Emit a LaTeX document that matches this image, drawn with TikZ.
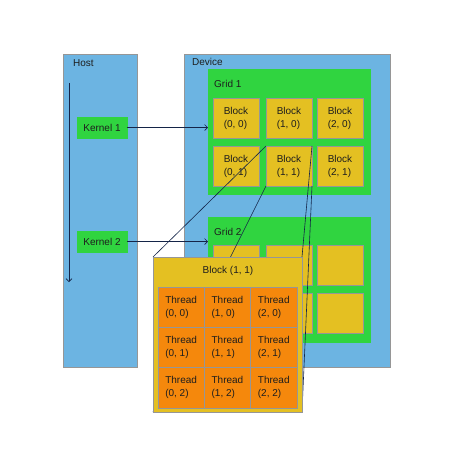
\documentclass[tikz,border=0pt]{standalone}
\usepackage{fontspec}
\setmainfont{Liberation Sans}
\usetikzlibrary{arrows.meta}
\definecolor{hostblue}{RGB}{108,180,226}
\definecolor{gridgreen}{RGB}{48,212,64}
\definecolor{blockyellow}{RGB}{228,192,34}
\definecolor{threadorange}{RGB}{245,136,12}
\definecolor{edgegray}{RGB}{150,150,150}
\definecolor{linenavy}{RGB}{20,36,72}
\definecolor{textdark}{RGB}{30,30,30}
\begin{document}
\begin{tikzpicture}[
	x=1pt, y=-1pt,
	font=\fontsize{10}{13}\selectfont,
	box/.style={draw=edgegray, line width=0.6pt, anchor=north west, inner sep=0pt, outer sep=0pt, text=textdark},
	hostbox/.style={box, fill=hostblue, minimum width=74pt, minimum height=313pt},
	gridbox/.style={box, draw=gridgreen, fill=gridgreen, minimum width=162pt, minimum height=125pt},
	blockbox/.style={box, fill=blockyellow, minimum width=46pt, minimum height=40pt, align=left},
	threadbox/.style={box, fill=threadorange, minimum width=46.3pt, minimum height=40.3pt, align=left},
	kernelbox/.style={box, draw=gridgreen, fill=gridgreen, minimum width=50pt, minimum height=21pt, anchor=center},
	caption/.style={anchor=west, inner sep=0pt, text=textdark},
	flow/.style={draw=linenavy, line width=0.7pt, -{Straight Barb[length=3pt,width=6pt]}},
	zoomline/.style={draw=linenavy, line width=0.6pt}
]
\useasboundingbox (0,0) rectangle (474,474);

% host side
\node[hostbox] (host) at (63,54) {};
\node[caption] (hostlabel) at (73,63) {Host};
\coordinate (flowtop) at (69,83);
\coordinate (flowend) at (69,282);
\draw[flow] (flowtop) -- (flowend);
\node[kernelbox] (kernel1) at (102,127.5) {Kernel 1};
\node[kernelbox] (kernel2) at (102,241.5) {Kernel 2};

% device side
\node[hostbox, minimum width=206pt] (device) at (184,54) {};
\node[caption] (devicelabel) at (192,62) {Device};

\node[gridbox] (grid1) at (208,69) {};
\node[caption] (grid1label) at (214,84) {Grid 1};
\foreach \i/\x in {0/213,1/266,2/317}
	\foreach \j/\y in {0/98,1/146}
		\node[blockbox] (g1b\i\j) at (\x,\y) {Block\\(\i, \j)};

\node[gridbox] (grid2) at (208,217) {};
\node[caption] (grid2label) at (214,232) {Grid 2};
\foreach \i/\x in {0/213,1/266,2/317}
	\foreach \j/\y in {0/245,1/293}
		\node[blockbox] (g2b\i\j) at (\x,\y) {};

\draw[flow] (kernel1.east) -- (kernel1.east -| grid1.west);
\draw[flow] (kernel2.east) -- (kernel2.east -| grid2.west);

% block (1,1) blown up
\coordinate (blkNW) at (153,257);
\coordinate (blkNE) at (302,257);
\coordinate (blkSW) at (153,412);
\coordinate (blkSE) at (302,412);
\draw[zoomline] (g1b11.north west) -- (blkNW);
\draw[zoomline] (g1b11.south west) -- (blkSW);
\draw[zoomline] (g1b11.north east) -- (blkNE);
\draw[zoomline] (g1b11.south east) -- (blkSE);

\node[blockbox, minimum width=149pt, minimum height=155pt] (blk) at (blkNW) {};
\node[text=textdark] (blklabel) at (228,271) {Block (1, 1)};
\foreach \i/\x in {0/158,1/204.3,2/250.6}
	\foreach \j/\y in {0/287,1/327.3,2/367.6}
		\node[threadbox] (t\i\j) at (\x,\y) {Thread\\(\i, \j)};
\end{tikzpicture}
\end{document}
